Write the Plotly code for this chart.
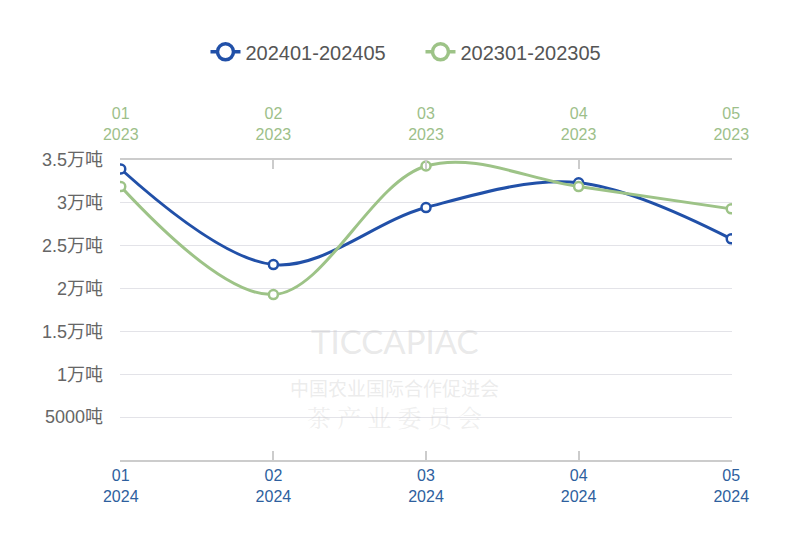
import plotly.graph_objects as go

months = ["01", "02", "03", "04", "05"]
labels_2024 = ["01<br>2024", "02<br>2024", "03<br>2024", "04<br>2024", "05<br>2024"]
labels_2023 = ["01<br>2023", "02<br>2023", "03<br>2023", "04<br>2023", "05<br>2023"]
series_2024 = [33950, 22800, 29450, 32350, 25800]
series_2023 = [31900, 19300, 34300, 31900, 29300]
name_2024 = "202401-202405"
name_2023 = "202301-202305"
y_ticks = [5000, 10000, 15000, 20000, 25000, 30000, 35000]
y_labels = ["5000吨", "1万吨", "1.5万吨", "2万吨", "2.5万吨", "3万吨", "3.5万吨"]

BLUE = "#2150a8"
GREEN = "#9dc387"
FONT = "Liberation Sans, Noto Sans CJK SC, sans-serif"

fig = go.Figure()
# faint watermark (drawn first, below data)
for txt, yy, sz, col, fam in [
        ("TICCAPIAC", 0.323, 33, "rgba(200,200,200,0.4)", "Lato, Liberation Sans, sans-serif"),
        ("中国农业国际合作促进会", 0.19, 19, "rgba(200,200,200,0.35)", "Noto Sans CJK SC, sans-serif"),
        ("茶 产 业 委 员 会", 0.08, 24, "rgba(200,200,200,0.3)", "Noto Serif CJK SC, Noto Sans CJK SC, serif")]:
    fig.add_annotation(text=txt, x=0.449, y=yy, xref="paper", yref="paper", showarrow=False,
                       font=dict(size=sz, color=col, family=fam))

fig.add_trace(go.Scatter(
    x=months, y=series_2024, name=name_2024, mode="lines+markers", showlegend=False,
    line=dict(color=BLUE, width=3, shape="spline", smoothing=1.0),
    marker=dict(symbol="circle", size=9, color="white", line=dict(color=BLUE, width=2.5)),
    xaxis="x", yaxis="y",
))
fig.add_trace(go.Scatter(
    x=months, y=series_2023, name=name_2023, mode="lines+markers", showlegend=False,
    line=dict(color=GREEN, width=3, shape="spline", smoothing=1.0),
    marker=dict(symbol="circle", size=9, color="white", line=dict(color=GREEN, width=2.5)),
    xaxis="x2", yaxis="y",
))
# legend entries (larger symbols, as in the reference legend)
for nm, col in [(name_2024, BLUE), (name_2023, GREEN)]:
    fig.add_trace(go.Scatter(
        x=[None], y=[None], name=nm, mode="lines+markers",
        line=dict(color=col, width=3.5),
        marker=dict(symbol="circle", size=17, color="white", line=dict(color=col, width=3.5)),
        xaxis="x", yaxis="y",
    ))

fig.update_layout(
    width=800, height=534,
    margin=dict(l=112, r=76, t=152, b=82),
    paper_bgcolor="white", plot_bgcolor="white",
    font=dict(family=FONT, size=15, color="#666"),
    showlegend=True,
    legend=dict(orientation="h", x=0.491, xanchor="center", y=0.918, yanchor="middle",
                yref="container", font=dict(size=20, color="#555"),
                entrywidth=170, entrywidthmode="pixels"),
    xaxis=dict(
        type="category", tickmode="array", tickvals=months, ticktext=labels_2024,
        showgrid=False, showline=True, linecolor="#cccccc", linewidth=1.5,
        ticks="inside", ticklen=9, tickcolor="#cccccc", tickwidth=1.5,
        tickfont=dict(size=16, color="#2e5f9e", family=FONT),
        range=[-0.005, 4.005], zeroline=False, automargin=False,
    ),
    xaxis2=dict(
        type="category", overlaying="x", side="top", tickmode="array",
        tickvals=months, ticktext=labels_2023,
        showgrid=False, showline=True, linecolor="#cccccc", linewidth=1.5,
        ticks="inside", ticklen=9, tickcolor="#cccccc", tickwidth=1.5,
        tickfont=dict(size=16, color="#9dbf8a", family=FONT),
        ticklabelstandoff=12,
        range=[-0.005, 4.005], zeroline=False, automargin=False,
    ),
    yaxis=dict(
        range=[0, 35000], tickmode="array", tickvals=y_ticks, ticktext=y_labels,
        showgrid=True, gridcolor="#e3e3e8", gridwidth=1.2, zeroline=False,
        showline=False, ticks="", ticklabelstandoff=16, automargin=False,
        tickfont=dict(size=18, color="#666", family=FONT),
    ),
)

fig.write_html("out.html")
